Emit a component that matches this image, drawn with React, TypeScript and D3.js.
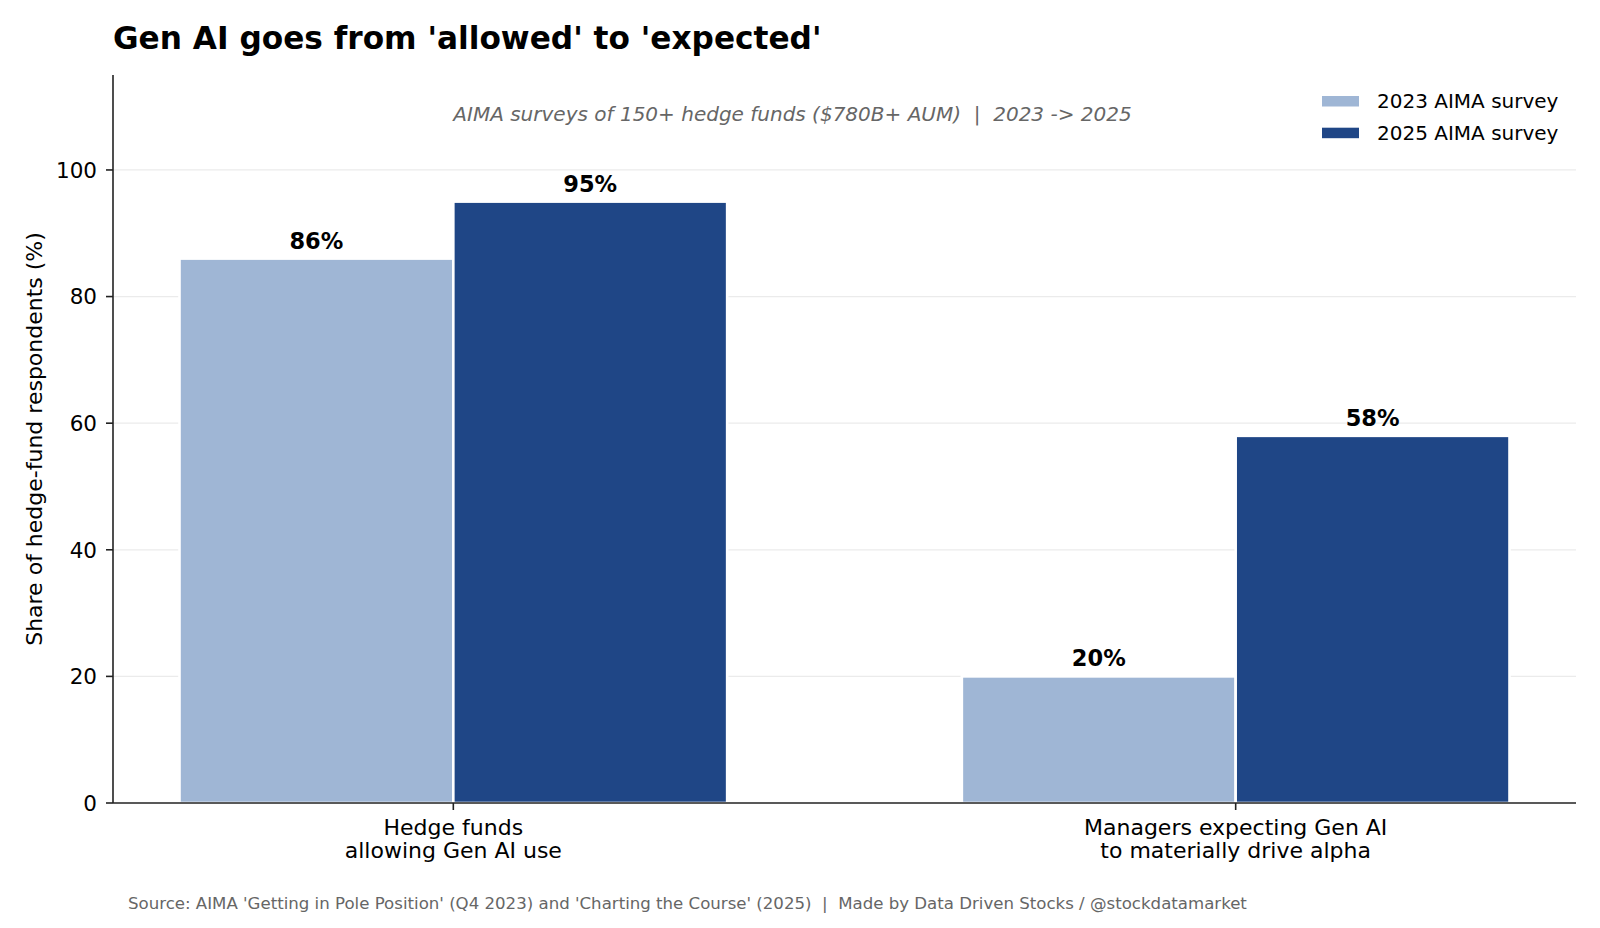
import React from 'react';
import * as d3 from 'd3';

const categories = ['Hedge funds\nallowing Gen AI use', 'Managers expecting Gen AI\nto materially drive alpha'];
const seriesNames = ['2023 AIMA survey', '2025 AIMA survey'];
const values2023 = [86, 20];
const values2025 = [95, 58];
const yTicks = [0, 20, 40, 60, 80, 100];
const colors = ['#9fb6d5', '#1f4686'];

const W = 1600;
const H = 928;
const margin = { top: 75, right: 24, bottom: 125, left: 113 };
const FONT = 'DejaVu Sans, sans-serif';

export default function App() {
  const innerW = W - margin.left - margin.right;
  const innerH = H - margin.top - margin.bottom;

  const barW = 0.35;
  const x = d3.scaleLinear().domain([-0.435, 1.435]).range([0, innerW]);
  const y = d3.scaleLinear().domain([0, 115]).range([innerH, 0]);

  const series = [values2023, values2025];
  const offsets = [-barW / 2, barW / 2];

  return (
    <svg width={W} height={H} style={{ display: 'block', position: 'absolute', left: 0, top: 0, background: '#fff' }} fontFamily={FONT}>
      <text x={113} y={49} fontSize={31.2} fontWeight="bold" fill="#000">
        Gen AI goes from 'allowed' to 'expected'
      </text>
      <g transform={`translate(${margin.left},${margin.top})`}>
        {yTicks.filter(t => t > 0).map(t => (
          <line key={t} x1={0} x2={innerW} y1={y(t)} y2={y(t)} stroke="#ebebeb" strokeWidth={1.2} />
        ))}
        {series.map((vals, si) =>
          vals.map((v, ci) => {
            const x0 = x(ci + offsets[si] - barW / 2);
            const x1 = x(ci + offsets[si] + barW / 2);
            return (
              <rect key={`${si}-${ci}`} x={x0} y={y(v)} width={x1 - x0} height={y(0) - y(v)}
                fill={colors[si]} stroke="#fff" strokeWidth={2.6} />
            );
          })
        )}
        {series.map((vals, si) =>
          vals.map((v, ci) => (
            <text key={`l-${si}-${ci}`} x={x(ci + offsets[si])} y={y(v) - 10} textAnchor="middle"
              fontSize={22.5} fontWeight="bold" fill="#000">{`${v}%`}</text>
          ))
        )}
        <line x1={0} x2={0} y1={0} y2={innerH} stroke="#222" strokeWidth={1.6} />
        <line x1={0} x2={innerW} y1={innerH} y2={innerH} stroke="#222" strokeWidth={1.6} />
        {yTicks.map(t => (
          <g key={t} transform={`translate(0,${y(t)})`}>
            <line x1={-7} x2={0} stroke="#222" strokeWidth={1.6} />
            <text x={-16} dy="0.36em" textAnchor="end" fontSize={21.5} fill="#000">{t}</text>
          </g>
        ))}
        {categories.map((c, ci) => (
          <g key={c} transform={`translate(${x(ci)},${innerH})`}>
            <line y1={0} y2={7} stroke="#222" strokeWidth={1.6} />
            {c.split('\n').map((line, li) => (
              <text key={li} y={31.5 + li * 23} textAnchor="middle" fontSize={22} fill="#000">{line}</text>
            ))}
          </g>
        ))}
        <text transform={`translate(${42 - margin.left},${innerH / 2}) rotate(-90)`} textAnchor="middle" fontSize={22} fill="#000">
          Share of hedge-fund respondents (%)
        </text>
        <text x={792.5 - margin.left} y={121 - margin.top} textAnchor="middle" fontSize={20} fontStyle="italic" fill="#666"
          style={{ whiteSpace: 'pre' }}>
          AIMA surveys of 150+ hedge funds ($780B+ AUM)  |  2023 -&gt; 2025
        </text>
        {seriesNames.map((n, i) => (
          <g key={n} transform={`translate(${1322 - margin.left},${96 - margin.top + i * 31.7})`}>
            <rect x={0} y={0} width={37} height={10.5} fill={colors[i]} />
            <text x={55} y={5.25} dy="0.36em" fontSize={20} fill="#000">{n}</text>
          </g>
        ))}
      </g>
      <text x={128} y={909} fontSize={16.6} fill="#666" style={{ whiteSpace: 'pre' }}>
        Source: AIMA 'Getting in Pole Position' (Q4 2023) and 'Charting the Course' (2025)  |  Made by Data Driven Stocks / @stockdatamarket
      </text>
    </svg>
  );
}
